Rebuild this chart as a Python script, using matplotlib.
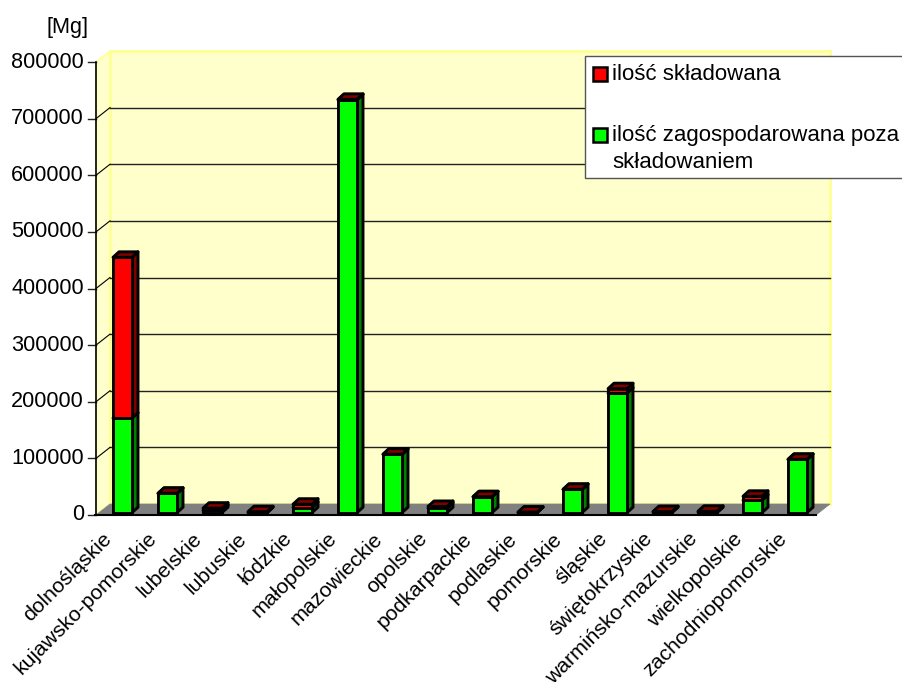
import matplotlib
matplotlib.use("Agg")
import matplotlib.pyplot as plt
from matplotlib.patches import Polygon, Rectangle

categories = ["dolnośląskie", "kujawsko-pomorskie", "lubelskie", "lubuskie", "łódzkie",
              "małopolskie", "mazowieckie", "opolskie", "podkarpackie", "podlaskie",
              "pomorskie", "śląskie", "świętokrzyskie", "warmińsko-mazurskie",
              "wielkopolskie", "zachodniopomorskie"]
managed = [167000, 34000, 4000, 300, 9000, 729000, 103000, 8000, 28000, 300,
           41000, 211000, 1000, 1000, 22000, 94000]
landfilled = [284000, 300, 4000, 1500, 6000, 1000, 300, 3000, 300, 800,
              300, 8000, 1000, 1500, 7000, 300]
yticks = [0, 100000, 200000, 300000, 400000, 500000, 600000, 700000, 800000]

W, H = 902, 682
plt.rcParams['font.family'] = ['Liberation Sans', 'DejaVu Sans']
fig = plt.figure(figsize=(W/100, H/100), dpi=100)
L, R, B, T = 96, 816, 515, 62
ax = fig.add_axes([L/W, 1-B/H, (R-L)/W, (B-T)/H])
ax.set_xlim(0, len(categories))
ax.set_ylim(0, 800000)
ax.axis("off")
px = len(categories)/(R-L)
py = 800000/(B-T)
def P(x, y, dx=0, dy=0):
    return (x+dx*px, y+dy*py)

WD, WH = 14, 11   # wall depth in pixels
wall = '#FFFFCC'; border = '#FFFF99'
n = len(categories); top = 800000
ax.add_patch(Polygon([P(0,0), P(0,0,WD,WH), P(0,top,WD,WH), P(0,top)], fc=wall, ec=border, lw=1.2, clip_on=False, zorder=1))
ax.add_patch(Polygon([P(0,0,WD,WH), P(n,0,WD,WH), P(n,top,WD,WH), P(0,top,WD,WH)], fc=wall, ec=border, lw=2.2, clip_on=False, zorder=1))
ax.add_patch(Polygon([P(0,0), P(n,0), P(n,0,WD,WH), P(0,0,WD,WH)], fc='#808080', ec='#808080', lw=0.5, clip_on=False, zorder=2))
for v in yticks[1:-1]:
    ax.plot(*zip(P(0,v,WD,WH), P(n,v,WD,WH)), color='#222222', lw=1, clip_on=False, zorder=1.5)
for v in yticks:
    ax.plot(*zip(P(0,v,-8), P(0,v)), color='#222222', lw=1, clip_on=False, zorder=3)
    if v < top and v > 0:
        ax.plot(*zip(P(0,v), P(0,v,WD,WH)), color='black', lw=0.8, clip_on=False, zorder=3)
    ax.text(*P(0,v,-12), f"{v}", ha='right', va='center', fontsize=15.6, color='black', clip_on=False)
ax.plot(*zip(P(0,0), P(0,top)), color='black', lw=1.2, clip_on=False, zorder=3)
ax.plot(*zip(P(0,0,-1), P(n,0)), color='black', lw=1.5, clip_on=False, zorder=3)

# bars
BW, BD, BH = 19, 6, 5.5
sx, sy = 4, 2.3
def bar3d(i, v0, v1, front, side, topc, z):
    x0 = i + sx*px + (45-BW)/2*px
    x1 = x0 + BW*px
    y0 = v0 + sy*py
    y1 = v1 + sy*py
    kw = dict(ec='black', lw=2.1, joinstyle='round', zorder=z, clip_on=False)
    ax.add_patch(Polygon([P(x1,y0), P(x1,y0,BD,BH), P(x1,y1,BD,BH), P(x1,y1)], fc=side, **kw))
    ax.add_patch(Polygon([P(x0,y1), P(x1,y1), P(x1,y1,BD,BH), P(x0,y1,BD,BH)], fc=topc, **kw))
    ax.add_patch(Rectangle((x0,y0), x1-x0, y1-y0, fc=front, **kw))

for i, (m, l) in enumerate(zip(managed, landfilled)):
    bar3d(i, 0, m, '#00FF00', '#008000', '#008000', 5)
    bar3d(i, m, m+l, '#FF0000', '#800000', '#800000', 6)

for i, c in enumerate(categories):
    ax.text(*P(i+0.5, 0, -16, -14), c, rotation=45, rotation_mode='anchor', ha='right', va='top',
            fontsize=15.3, color='black', clip_on=False)

fig.text(47/W, 1-27/H, "[Mg]", fontsize=15.6, va='center', ha='left')

# legend box
fig.patches.append(Rectangle((585/W, 1-178/H), 330/W, 122/H, transform=fig.transFigure,
                             fc='white', ec='#555555', lw=1, zorder=10))
def lg(y, color):
    fig.patches.append(Rectangle((593/W, 1-(y+7)/H), 14/W, 14/H, transform=fig.transFigure,
                                 fc=color, ec='black', lw=1.8, zorder=11))
lg(74, '#FF0000'); lg(134.5, '#00FF00')
for y, s in [(75, "ilość składowana"), (135, "ilość zagospodarowana poza"), (162, "składowaniem")]:
    fig.text(612/W, 1-y/H, s, fontsize=16, va='center', ha='left', zorder=12)

fig.savefig("out.png", dpi=100)
